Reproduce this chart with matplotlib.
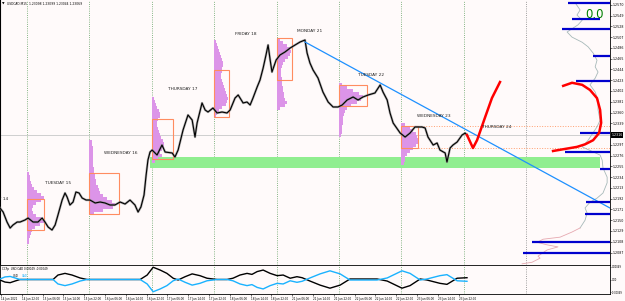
"""
USDCAD M15 chart with daily volume profiles, trendline and CCFp panel
(MT4-style screenshot recreation)
"""

import numpy as np
import matplotlib
matplotlib.use('Agg')
import matplotlib.pyplot as plt
from matplotlib.patches import Rectangle

# ============================================================
# Data (x = chart hours from 15 Jun 00:00, weekend skipped)
# ============================================================

price_h = [-10.4, -9.2, -7.7, -6.5, -5.4, -3.8, -2.7, -0.8, 0.4, 2.3, 4.2, 5.8, 6.9, 8.1,
           9.6, 10.8, 11.9, 13.5, 14.6, 15.4, 16.5, 17.7, 18.8, 20.0, 21.2, 22.7, 24.2,
           26.2, 28.1, 30.0, 31.9, 33.8, 35.8, 37.7, 39.6, 41.5, 42.7, 43.8, 45.0, 45.8,
           46.5, 47.3, 48.1, 50.0, 51.9, 53.1, 55.8, 56.9, 58.1, 60.0, 61.9, 63.5, 64.6,
           65.4, 67.3, 68.5, 69.6, 71.5, 73.1, 75.0, 76.9, 78.1, 80.0, 81.2, 83.1, 84.6,
           85.8, 86.9, 88.5, 89.6, 90.8, 91.9, 92.7, 93.5, 94.2, 95.8, 97.3, 99.2, 101.2,
           103.1, 105.0, 106.9, 107.7, 108.8, 110.0, 111.9, 113.8, 115.8, 117.7, 119.6,
           121.2, 123.1, 125.4, 127.3, 129.2, 131.2, 133.8, 135.8, 136.9, 138.5, 139.6,
           140.8, 143.5, 145.4, 147.3, 149.2, 151.9, 153.1, 154.2, 156.2, 157.7, 158.8,
           160.8, 161.5, 162.7, 163.8, 165.4, 167.3, 168.5, 169.2]
price_close = [1.21738, 1.21660, 1.21465, 1.21348, 1.21407, 1.21465, 1.21465, 1.21504,
               1.21543, 1.21465, 1.21465, 1.21543, 1.21465, 1.21368, 1.21309, 1.21407,
               1.21602, 1.21894, 1.22031, 1.21953, 1.21797, 1.21855, 1.22050, 1.22031,
               1.21933, 1.21894, 1.21894, 1.21836, 1.21855, 1.21836, 1.21797, 1.21797,
               1.21855, 1.21816, 1.21894, 1.21797, 1.21660, 1.21758, 1.21992, 1.22382,
               1.22674, 1.22830, 1.22869, 1.22772, 1.22966, 1.22830, 1.22811, 1.22733,
               1.22869, 1.23259, 1.23552, 1.23454, 1.23122, 1.23396, 1.23786, 1.23649,
               1.23610, 1.23688, 1.23591, 1.23610, 1.23591, 1.23649, 1.23883, 1.23942,
               1.23786, 1.23805, 1.23747, 1.23883, 1.24098, 1.24234, 1.24468, 1.24722,
               1.24917, 1.24624, 1.24390, 1.24624, 1.24722, 1.24780, 1.24858, 1.24917,
               1.24975, 1.25014, 1.24761, 1.24566, 1.24429, 1.24273, 1.24000, 1.23805,
               1.23708, 1.23708, 1.23747, 1.23844, 1.23903, 1.23844, 1.23903, 1.23942,
               1.23981, 1.24137, 1.24000, 1.23844, 1.23591, 1.23396, 1.23200, 1.23122,
               1.23200, 1.23318, 1.23318, 1.23298, 1.23122, 1.22966, 1.23006, 1.22869,
               1.22811, 1.22635, 1.22908, 1.22966, 1.23025, 1.23161, 1.23200, 1.23161]

bid_price = 1.23161

# Day separators and labels
day_starts = [0, 24, 48, 72, 96, 120, 144, 168]
future_day_start = 192
day_names = ['MONDAY 14', 'TUESDAY 15', 'WEDNESDAY 16', 'THURSDAY 17', 'FRIDAY 18',
             'MONDAY 21', 'TUESDAY 22', 'WEDNESDAY 23', 'THURSDAY 24']
day_label_h = [-12.1, 11.9, 36.2, 60.0, 84.2, 108.5, 132.3, 156.5, 180.8]
day_label_price = [1.21914, 1.22226, 1.22811, 1.24059, 1.25131, 1.25189, 1.24332,
                   1.23532, 1.23318]

# Daily volume profiles: start hour, top price, widths (hours) per bin
profile_bin = 0.000585
profile_start = [0, 24, 48, 72, 96, 120, 144]
profile_top = [1.22440, 1.23064, 1.23903, 1.25014, 1.25053, 1.24176, 1.23396]
profile_widths = [
    [0.8, 1.2, 1.2, 1.5, 1.9, 2.7, 3.8, 5.4, 6.5, 5.4, 3.5, 2.3, 1.9, 2.3, 3.5, 5.4,
     6.5, 5.0, 3.1, 1.9, 1.5, 1.2, 0.8, 0.8],
    [0.8, 0.8, 1.2, 1.2, 1.2, 1.2, 1.5, 1.5, 1.5, 1.9, 1.9, 2.3, 2.3, 2.7, 2.7, 3.1,
     3.5, 4.2, 5.4, 6.9, 8.5, 10.0, 9.2, 5.4, 1.9],
    [0.8, 1.2, 1.5, 1.9, 2.7, 3.1, 3.1, 2.3, 1.9, 1.9, 2.3, 2.7, 3.1, 3.5, 4.2, 4.6,
     4.6, 3.8, 3.1, 3.8, 2.3, 1.2],
    [0.8, 1.2, 1.5, 1.9, 2.3, 2.7, 3.1, 3.5, 3.5, 3.1, 3.1, 2.7, 2.7, 3.1, 3.5, 3.8,
     4.2, 4.6, 5.0, 5.4, 5.0, 4.6, 3.1, 1.9, 1.2, 0.8],
    [1.2, 2.3, 3.8, 5.0, 5.4, 5.0, 4.2, 3.1, 2.3, 1.9, 1.5, 1.5, 1.5, 1.9, 1.9, 1.9,
     2.3, 2.3, 2.7, 2.7, 3.1, 3.8, 3.1, 1.2],
    [1.2, 3.1, 5.4, 7.7, 9.2, 8.5, 6.9, 4.6, 3.1, 2.3, 1.9, 1.5, 1.5, 1.5, 1.2, 1.2,
     1.2, 0.8],
    [1.5, 3.1, 4.6, 5.4, 5.8, 6.2, 6.2, 5.4, 4.6, 3.1, 2.3, 1.5, 1.2, 0.8],
]

# Value-area boxes: width (hours), high, low
va_width = [6.5, 11.5, 8.1, 5.8, 5.8, 10.8, 6.2]
va_high = [1.21914, 1.22421, 1.23474, 1.24429, 1.25053, 1.24137, 1.23337]
va_low = [1.21309, 1.21621, 1.22694, 1.23513, 1.24234, 1.23727, 1.22908]

# Support zone
zone_h = [47.3, 220.4]
zone_low, zone_high = 1.22518, 1.22733

# Trendline
trend_h = [106.9, 224.2]
trend_price = [1.24975, 1.21738]

# Red projection path and arc
proj_h = [169.2, 171.5, 173.1, 176.2, 178.8, 181.9]
proj_price = [1.23161, 1.22908, 1.23064, 1.23513, 1.23883, 1.24195]
arc_h = [206.2, 209.6, 213.5, 216.5, 219.2, 220.4, 220.8, 220.0, 217.7, 214.6,
         211.5, 206.9, 202.3]
arc_price = [1.2412, 1.2418, 1.2414, 1.2404, 1.2388, 1.2365, 1.2340, 1.2320, 1.2306,
             1.2298, 1.2293, 1.2289, 1.2285]

# Right-side profile outline
rprof_h = [210.8, 212.7, 211.5, 213.5, 211.9, 207.7, 209.6, 213.5, 215.8, 217.7, 219.2,
           218.5, 219.6, 218.5, 216.5, 218.5, 219.6, 219.6, 220.4, 219.2, 215.8, 213.5,
           220.4, 221.2, 221.5, 223.1, 223.1, 221.5, 219.2, 216.5, 214.6, 215.4, 214.6,
           212.7]
rprof_price = [1.2574, 1.2560, 1.2550, 1.2540, 1.2531, 1.2517, 1.2507, 1.2497, 1.2488,
               1.2476, 1.2462, 1.2449, 1.2439, 1.2427, 1.2414, 1.2400, 1.2384, 1.2365,
               1.2345, 1.2332, 1.2306, 1.2293, 1.2277, 1.2267, 1.2252, 1.2234, 1.2223,
               1.2203, 1.2193, 1.2185, 1.2174, 1.2164, 1.2150, 1.2135]
rprof2_h = [212.7, 209.6, 205.0, 198.5, 196.2, 200.0, 204.2, 200.0, 196.5, 197.3,
            194.2, 190.4]
rprof2_price = [1.2135, 1.2127, 1.2117, 1.2113, 1.2107, 1.2102, 1.2098, 1.2092,
                1.2080, 1.2076, 1.2068, 1.2065]

# Blue level lines (start hour, end hour, price)
level_start = [208.1, 209.6, 205.8, 217.7, 211.2, 212.7, 206.9, 220.4, 215.0, 214.6,
               194.2, 190.8]
level_end = [224.2, 220.4, 224.2, 224.2, 224.2, 224.2, 224.2, 224.2, 224.2, 224.2,
             224.2, 224.2]
level_price = [1.25730, 1.25418, 1.25229, 1.24702, 1.24214, 1.23206, 1.22836, 1.22499,
               1.21861, 1.21615, 1.21081, 1.20855]

# Price axis ticks
price_ticks = [1.25700, 1.25490, 1.25280, 1.25070, 1.24860, 1.24650, 1.24440, 1.24230,
               1.24020, 1.23810, 1.23600, 1.23390, 1.22970, 1.22760, 1.22550, 1.22340,
               1.22130, 1.21920, 1.21710, 1.21500, 1.21290, 1.21080, 1.20870]

# Time axis labels
time_ticks = [-10, -2, 6, 14, 22, 30, 38, 46, 54, 62, 70, 78, 86, 94, 102, 110, 118,
              126, 134, 142, 150, 158, 166]
time_labels = ['14 Jun 2021', '14 Jun 22:00', '15 Jun 06:00', '15 Jun 14:00',
               '15 Jun 22:00', '16 Jun 06:00', '16 Jun 14:00', '16 Jun 22:00',
               '17 Jun 06:00', '17 Jun 14:00', '17 Jun 22:00', '18 Jun 06:00',
               '18 Jun 14:00', '18 Jun 22:00', '21 Jun 06:00', '21 Jun 14:00',
               '21 Jun 22:00', '22 Jun 06:00', '22 Jun 14:00', '22 Jun 22:00',
               '23 Jun 06:00', '23 Jun 14:00', '23 Jun 22:00']

# CCFp indicator (x1e-4)
ccf_h = [-10.4, -8.5, -6.5, -4.6, -2.7, 0, 10.0, 11.9, 14.6, 17.3, 20.4, 23.1, 43.5,
         46.2, 48.5, 51.2, 53.8, 56.2, 58.1, 60.8, 63.5, 66.5, 69.2, 73.1, 76.9, 79.2,
         81.9, 84.6, 86.5, 88.5, 90.8, 93.5, 96.2, 98.5, 101.2, 103.8, 105.8, 108.8,
         112.7, 116.5, 120.4, 124.2, 134.6, 138.5, 144.2, 147.3, 151.2, 153.8, 158.8,
         161.5, 165.4, 169.2]
ccf_usd = [-0.2, -1.0, -1.25, -0.6, 0, 0, 0, 1.75, 2.4, 1.75, 0.6, 0, 0, 1.75, 4.8, 3.7,
           2.4, 0.5, -0.2, 1.1, 2.2, 1.5, 0.5, 0, 0, 0.5, 1.75, 2.4, 2.0, 3.1, 3.7, 2.4,
           1.5, 1.75, 0.5, 1.1, 0.7, -0.6, -2.2, -3.4, -2.2, 0.2, 0.2, -0.6, -3.4, -2.4,
           0.2, -0.2, -1.5, -1.9, 0.5, 0.7]
ccf_cad = [0.2, 1.0, 1.2, 0.6, 0, 0, 0, -1.75, -2.4, -1.75, -0.6, 0, 0, -1.75, -4.8,
           -3.7, -2.4, -0.5, 0.2, -1.1, -2.2, -1.5, -0.5, 0, 0, -0.5, -1.75, -2.4, -2.0,
           -3.1, -3.7, -2.4, -1.5, -1.75, -0.5, -1.1, -0.7, 0.6, 2.2, 3.4, 2.2, -0.2,
           -0.2, 0.6, 3.4, 2.4, -0.2, 0.2, 1.5, 1.9, -0.5, -0.7]

# ============================================================
# Figure
# ============================================================

BG = '#fffafa'
XMIN, XMAX = -10.4, 224.2

fig = plt.figure(figsize=(6.25, 3.01), dpi=100, facecolor=BG)
ax = fig.add_axes([0, 36 / 301, 610 / 625, 265 / 301], facecolor=BG)
ax2 = fig.add_axes([0, 7 / 301, 610 / 625, 29 / 301], facecolor=BG)

ax.set_xlim(XMIN, XMAX)
ax.set_ylim(1.20627, 1.25794)

# Day separators
for d in day_starts:
    ax.axvline(d, color='#5f9f5f', lw=0.6, ls=':', zorder=1)
    ax2.axvline(d, color='#5f9f5f', lw=0.6, ls=':', zorder=1)
ax.axvline(future_day_start, color='#808080', lw=0.6, ls=':', zorder=1)
ax2.axvline(future_day_start, color='#808080', lw=0.6, ls=':', zorder=1)

# Bid line
ax.axhline(bid_price, color='#c8c8c8', lw=0.6, zorder=1)

# Support zone
ax.fill_between(zone_h, zone_low, zone_high, color='#90ee90', lw=0, zorder=1.5)

# Volume profiles and value-area boxes
for start, top, widths in zip(profile_start, profile_top, profile_widths):
    centers = top - profile_bin * (np.arange(len(widths)) + 0.5)
    ax.barh(centers, widths, left=start, height=profile_bin, color='#dc94e8',
            lw=0, zorder=2)
for start, w, hi, lo in zip(profile_start, va_width, va_high, va_low):
    ax.add_patch(Rectangle((start, lo), w, hi - lo, fill=False, edgecolor='#ff8c60',
                           lw=0.8, zorder=3))
ax.hlines([va_high[-1], va_low[-1]], profile_start[-1] + va_width[-1], XMAX,
          colors='#ff9f70', lw=0.7, linestyles=':', zorder=2)

# Price
ax.plot(price_h, price_close, color='#8c8c8c', lw=1.7, alpha=0.7, zorder=4)
ax.plot(price_h, price_close, color='black', lw=0.8, zorder=5)

# Trendline
ax.plot(trend_h, trend_price, color='#1e90ff', lw=0.9, zorder=6)

# Right-side profile and levels
ax.plot(rprof_h, rprof_price, color='#a7b9b9', lw=0.6, zorder=3)
ax.plot(rprof2_h, rprof2_price, color='#e6a8b0', lw=0.6, zorder=3)
ax.hlines(level_price, level_start, level_end, colors='#0000cd', lw=1.6, zorder=6)
ax.text(218.1, 1.25521, '0.0', color='#008000', fontsize=8.5, ha='center',
        va='center', zorder=7)

# Red hand-drawn projection
ax.plot(proj_h, proj_price, color='#ff0000', lw=1.8, zorder=7)
ax.plot(arc_h, arc_price, color='#ff0000', lw=1.8, zorder=7)

# Day labels (first one runs off the left edge, as in the original)
for name, h, p in zip(day_names, day_label_h, day_label_price):
    ax.text(h, p, name, fontsize=3.1, ha='center', va='center', color='#202020',
            zorder=8)

# Title
fig.text(2 / 625, 1 - 4 / 301, '\u25bc', fontsize=2.4, va='center', ha='left')
fig.text(7 / 625, 1 - 4 / 301, 'USDCAD,M15  1.23098 1.23099 1.23044 1.23069',
         fontsize=2.2, va='center', ha='left')

# Price axis
ax.set_xticks([])
ax.yaxis.tick_right()
ax.set_yticks(price_ticks)
ax.set_yticklabels([f'{p:.4f}' for p in price_ticks])
ax.tick_params(axis='y', labelsize=2.3, length=1.2, width=0.4, pad=0.4)
ax.text(1.002, bid_price, f'{bid_price:.4f}', transform=ax.get_yaxis_transform(),
        fontsize=2.3, color='white', va='center', ha='left',
        bbox=dict(boxstyle='square,pad=0.2', fc='black', ec='none'))
for s in ['top', 'bottom']:
    ax.spines[s].set_visible(False)
ax.spines['left'].set_linewidth(0.8)
ax.spines['right'].set_linewidth(0.6)

# Indicator panel
ax2.set_xlim(XMIN, XMAX)
ax2.set_ylim(-5.68, 5.68)
ax2.plot(ccf_h, ccf_usd, color='black', lw=1.0, zorder=4)
ax2.plot(ccf_h, ccf_cad, color='#1ab2ff', lw=1.0, zorder=4)
ax2.text(0.003, 0.92, 'CCFp  USD CAD 0.00049 -0.00049', transform=ax2.transAxes,
         fontsize=2.0, va='top', ha='left')
ax2.text(0.021, 0.70, 'USD', transform=ax2.transAxes, fontsize=2.0, va='top',
         ha='left', color='black')
ax2.text(0.036, 0.70, 'CAD', transform=ax2.transAxes, fontsize=2.0, va='top',
         ha='left', color='#1ab2ff')
ax2.yaxis.tick_right()
ax2.set_yticks([4.9, 0, -4.9])
ax2.set_yticklabels(['0.00049', '0.00', '-0.00049'])
ax2.tick_params(axis='y', labelsize=1.8, length=1.0, width=0.4, pad=0.3)
ax2.set_xticks(time_ticks)
ax2.set_xticklabels(time_labels)
ax2.tick_params(axis='x', labelsize=2.0, length=1.5, width=0.4, pad=0.5)
for lbl in ax2.get_xticklabels():
    lbl.set_ha('left')
for s in ax2.spines.values():
    s.set_linewidth(0.6)

fig.savefig('out.png', dpi=100, facecolor=BG)
